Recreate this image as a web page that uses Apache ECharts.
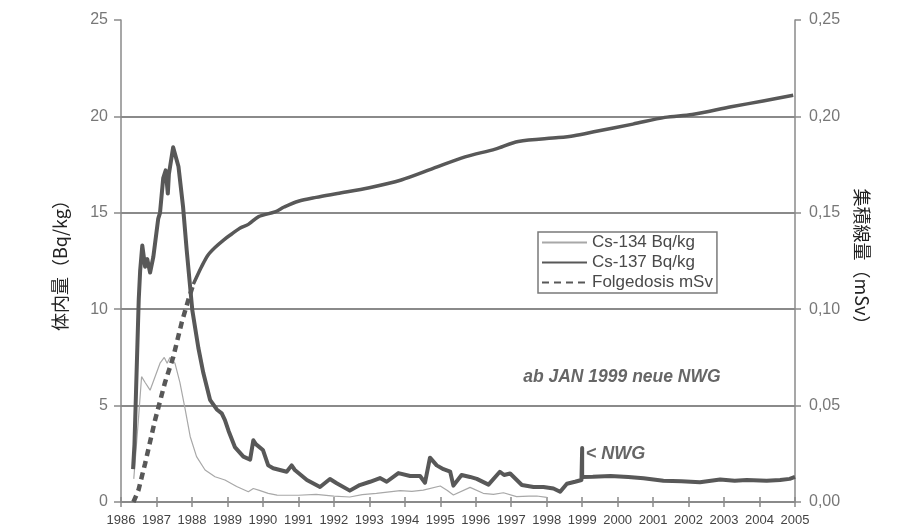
<!DOCTYPE html>
<html>
<head>
<meta charset="utf-8">
<script src="https://cdn.jsdelivr.net/npm/echarts@6/dist/echarts.min.js"></script>
<style>
  html, body { margin: 0; padding: 0; background: #ffffff; }
  #chart { width: 904px; height: 528px; }
</style>
</head>
<body>
<div id="chart"></div>
<script>
// Year ticks on the time axis
const yearTicks = [1986, 1987, 1988, 1989, 1990, 1991, 1992, 1993, 1994, 1995, 1996, 1997, 1998, 1999, 2000, 2001, 2002, 2003, 2004, 2005];

// Cs-137 body burden (Bq/kg)
const cs137Years = [1986.34, 1986.38, 1986.50, 1986.54, 1986.60, 1986.68, 1986.74, 1986.82, 1986.91, 1987.05, 1987.10, 1987.19, 1987.26, 1987.32, 1987.35, 1987.47, 1987.62, 1987.75, 1987.85, 1988.01, 1988.18, 1988.32, 1988.51, 1988.70, 1988.84, 1988.93, 1989.03, 1989.21, 1989.45, 1989.64, 1989.73, 1989.80, 1990.00, 1990.15, 1990.29, 1990.67, 1990.81, 1990.90, 1991.24, 1991.61, 1991.89, 1992.08, 1992.45, 1992.73, 1993.02, 1993.30, 1993.49, 1993.82, 1994.15, 1994.43, 1994.57, 1994.71, 1994.90, 1995.09, 1995.28, 1995.37, 1995.60, 1995.84, 1996.03, 1996.36, 1996.68, 1996.80, 1996.97, 1997.30, 1997.63, 1997.91, 1998.19, 1998.38, 1998.57, 1998.80, 1998.98, 1999.00, 1999.00, 1999.00, 1999.30, 1999.80, 2000.30, 2000.73, 2001.29, 2001.80, 2002.32, 2002.89, 2003.30, 2003.64, 2004.20, 2004.58, 2004.85, 2005.00];
const cs137Values = [1.7, 3.0, 10.5, 12.0, 13.3, 12.2, 12.6, 11.9, 12.7, 14.7, 15.0, 16.8, 17.2, 16.0, 17.0, 18.4, 17.4, 15.3, 13.1, 9.95, 8.0, 6.7, 5.3, 4.8, 4.6, 4.25, 3.7, 2.85, 2.35, 2.2, 3.2, 3.0, 2.7, 1.9, 1.75, 1.57, 1.9, 1.66, 1.14, 0.78, 1.19, 0.97, 0.59, 0.88, 1.05, 1.24, 1.05, 1.5, 1.35, 1.35, 1.0, 2.3, 1.9, 1.7, 1.57, 0.85, 1.4, 1.3, 1.2, 0.9, 1.57, 1.4, 1.48, 0.88, 0.78, 0.78, 0.7, 0.53, 0.95, 1.05, 1.14, 1.14, 2.8, 1.3, 1.31, 1.35, 1.3, 1.23, 1.1, 1.08, 1.02, 1.17, 1.1, 1.14, 1.1, 1.14, 1.2, 1.3];

// Cs-134 body burden (Bq/kg)
const cs134Years = [1986.36, 1986.50, 1986.58, 1986.68, 1986.82, 1986.96, 1987.10, 1987.22, 1987.30, 1987.38, 1987.52, 1987.66, 1987.80, 1987.95, 1988.13, 1988.37, 1988.65, 1988.93, 1989.26, 1989.59, 1989.73, 1989.90, 1990.15, 1990.40, 1991.00, 1991.50, 1992.00, 1992.45, 1992.80, 1993.20, 1993.87, 1994.20, 1994.52, 1995.00, 1995.20, 1995.37, 1995.84, 1996.21, 1996.50, 1996.78, 1997.15, 1997.50, 1997.72, 1998.00];
const cs134Values = [1.2, 4.5, 6.5, 6.2, 5.8, 6.5, 7.2, 7.5, 7.2, 7.5, 7.2, 6.2, 4.9, 3.4, 2.35, 1.66, 1.31, 1.14, 0.8, 0.53, 0.7, 0.6, 0.45, 0.36, 0.35, 0.4, 0.3, 0.26, 0.38, 0.45, 0.59, 0.55, 0.62, 0.83, 0.6, 0.36, 0.76, 0.45, 0.4, 0.48, 0.28, 0.3, 0.31, 0.24];

// Committed dose (mSv): early build-up and later accumulation
const doseEarlyYears = [1986.35, 1986.49, 1986.68, 1986.96, 1987.24, 1987.47, 1987.71, 1987.90, 1988.04];
const doseEarlyValues = [0.0, 0.006, 0.020, 0.0425, 0.062, 0.075, 0.093, 0.105, 0.113];
const doseLateYears = [1988.04, 1988.27, 1988.45, 1988.65, 1988.90, 1989.12, 1989.35, 1989.59, 1989.88, 1990.34, 1990.60, 1991.00, 1991.50, 1992.10, 1993.00, 1993.90, 1994.80, 1995.70, 1996.55, 1997.20, 1998.33, 1998.77, 1999.33, 2000.43, 2001.33, 2002.10, 2003.20, 2004.10, 2004.95];
const doseLateValues = [0.113, 0.122, 0.128, 0.132, 0.136, 0.139, 0.142, 0.144, 0.148, 0.1505, 0.153, 0.156, 0.158, 0.160, 0.163, 0.167, 0.173, 0.179, 0.183, 0.187, 0.189, 0.190, 0.192, 0.196, 0.1995, 0.201, 0.205, 0.208, 0.211];

const pairs = (xs, ys) => xs.map((x, i) => [x, ys[i]]);

const axisGray = '#8a8a8a';
const lineDark = '#585858';
const fontLatin = 'Liberation Sans, Arial, sans-serif';
const fontCJK = 'Noto Sans CJK JP, Noto Sans CJK SC, sans-serif';

const chart = echarts.init(document.getElementById('chart'), null, { renderer: 'canvas' });

const option = {
  backgroundColor: '#ffffff',
  animation: false,
  grid: { left: 121, right: 109, top: 20, bottom: 26 },
  legend: {
    orient: 'vertical',
    left: 538,
    top: 232,
    padding: [2, 4, 2, 3],
    itemGap: 3,
    itemWidth: 45,
    itemHeight: 14,
    borderColor: '#7a7a7a',
    borderWidth: 1.5,
    backgroundColor: '#ffffff',
    itemStyle: { opacity: 0, color: 'transparent', borderColor: 'transparent' },
    textStyle: { fontFamily: fontLatin, fontSize: 17, color: '#4a4a4a' },
    data: ['Cs-134 Bq/kg', 'Cs-137 Bq/kg', 'Folgedosis mSv']
  },
  xAxis: [
    {
      type: 'value',
      min: yearTicks[0],
      max: yearTicks[yearTicks.length - 1],
      interval: 1,
      axisLine: { show: true, onZero: false, lineStyle: { color: axisGray, width: 1.5 } },
      axisTick: { show: true, length: 5, lineStyle: { color: axisGray, width: 1.5 } },
      axisLabel: {
        margin: 12,
        fontFamily: 'Liberation Sans Narrow, Liberation Sans, Arial, sans-serif',
        fontSize: 13,
        color: '#444',
        formatter: v => String(v)
      },
      splitLine: { show: false }
    },
    {
      // inner half of the crossing tick marks
      type: 'value',
      position: 'bottom',
      min: yearTicks[0],
      max: yearTicks[yearTicks.length - 1],
      interval: 1,
      axisLine: { show: false },
      axisTick: { show: true, inside: true, length: 5, lineStyle: { color: axisGray, width: 1.5 } },
      axisLabel: { show: false },
      splitLine: { show: false }
    }
  ],
  yAxis: [
    {
      type: 'value',
      min: 0,
      max: 25,
      interval: 5,
      name: '体内量（Bq/kg）',
      nameLocation: 'middle',
      nameRotate: 90,
      nameGap: 52,
      nameTextStyle: { fontFamily: fontCJK, fontSize: 18, color: '#222' },
      axisLine: { show: true, lineStyle: { color: axisGray, width: 1.5 } },
      axisTick: { show: true, length: 7, lineStyle: { color: axisGray, width: 1.5 } },
      axisLabel: { margin: 13, fontFamily: fontLatin, fontSize: 16, color: '#777' },
      splitLine: {
        show: true,
        lineStyle: { color: [axisGray, axisGray, axisGray, axisGray, axisGray, 'rgba(0,0,0,0)'], width: 2 }
      }
    },
    {
      type: 'value',
      min: 0,
      max: 0.25,
      interval: 0.05,
      position: 'right',
      name: '集積線量（mSv）',
      nameLocation: 'middle',
      nameRotate: -90,
      nameGap: 58,
      nameTextStyle: { fontFamily: fontCJK, fontSize: 18, color: '#222' },
      axisLine: { show: true, lineStyle: { color: axisGray, width: 1.5 } },
      axisTick: { show: true, length: 6, lineStyle: { color: axisGray, width: 1.5 } },
      axisLabel: {
        margin: 14,
        fontFamily: fontLatin,
        fontSize: 16,
        color: '#777',
        formatter: v => v.toFixed(2).replace('.', ',')
      },
      splitLine: { show: false }
    }
  ],
  series: [
    {
      name: 'Cs-134 Bq/kg',
      type: 'line',
      symbol: 'none',
      xAxisIndex: 0,
      yAxisIndex: 0,
      data: pairs(cs134Years, cs134Values),
      lineStyle: { color: '#a8a8a8', width: 1.2 },
      itemStyle: { color: '#a8a8a8' },
      z: 2
    },
    {
      name: 'Cs-137 Bq/kg',
      type: 'line',
      symbol: 'none',
      xAxisIndex: 0,
      yAxisIndex: 0,
      data: pairs(cs137Years, cs137Values),
      lineStyle: { color: lineDark, width: 4, join: 'round' },
      itemStyle: { color: lineDark },
      z: 3
    },
    {
      name: 'Folgedosis mSv',
      type: 'line',
      symbol: 'none',
      xAxisIndex: 0,
      yAxisIndex: 1,
      data: pairs(doseEarlyYears, doseEarlyValues),
      lineStyle: { color: lineDark, width: 4.5, type: [7, 5] },
      itemStyle: { color: lineDark },
      z: 4
    },
    {
      name: 'Folgedosis mSv',
      type: 'line',
      symbol: 'none',
      smooth: 0.3,
      xAxisIndex: 0,
      yAxisIndex: 1,
      data: pairs(doseLateYears, doseLateValues),
      lineStyle: { color: lineDark, width: 3.5, join: 'round' },
      itemStyle: { color: lineDark },
      z: 4
    }
  ]
};

chart.setOption(option);

// Text notes placed in data coordinates of the left axis
const notes = [
  { text: 'ab JAN 1999 neue NWG', at: [2000.12, 6.48], align: 'center', size: 17.5 },
  { text: '< NWG', at: [1999.1, 2.5], align: 'left', size: 18 }
];
chart.setOption({
  graphic: notes.map(n => {
    const p = chart.convertToPixel({ xAxisIndex: 0, yAxisIndex: 0 }, n.at);
    return {
      type: 'text',
      x: p[0],
      y: p[1],
      z: 10,
      style: {
        text: n.text,
        fontFamily: fontLatin,
        fontSize: n.size,
        fontWeight: 'bold',
        fontStyle: 'italic',
        fill: '#666',
        align: n.align,
        verticalAlign: 'middle'
      }
    };
  })
});
</script>
</body>
</html>
